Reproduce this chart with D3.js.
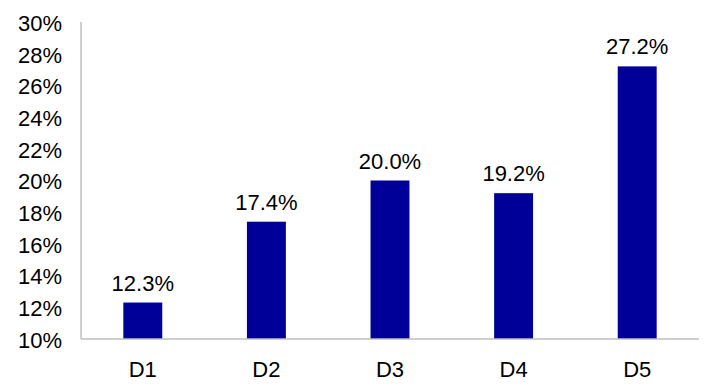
<!DOCTYPE html>
<html>
<head>
<meta charset="utf-8">
<script src="https://cdn.jsdelivr.net/npm/d3@7"></script>
<style>
  body { margin: 0; background: #fff; }
  text { font-family: "Liberation Sans", Arial, sans-serif; fill: #000; }
</style>
</head>
<body>
<div id="chart"></div>
<script>
// data
const categories = ["D1", "D2", "D3", "D4", "D5"];
const values = [12.3, 17.4, 20.0, 19.2, 27.2];
const yTicks = [10, 12, 14, 16, 18, 20, 22, 24, 26, 28, 30];

const width = 711, height = 390;
let padding = {top: 22, right: 12, bottom: 51, left: 81};

const svg = d3.select("#chart").append("svg")
  .attr("width", width)
  .attr("height", height);

let x = d3.scaleBand()
  .domain(categories)
  .range([padding.left, width - padding.right]);

let y = d3.scaleLinear()
  .domain([10, 30])
  .range([height - padding.bottom, padding.top]);

const barW = x.bandwidth() * 0.315;

// Y axis labels (no ticks)
svg.append("g")
  .attr("class", "axis y")
  .selectAll("text")
  .data(yTicks)
  .join("text")
    .attr("x", padding.left - 19)
    .attr("y", d => y(d))
    .attr("dy", "0.4em")
    .attr("text-anchor", "end")
    .style("font-size", "22px")
    .text(d => d + "%");

// bars
svg.selectAll(".bar")
  .data(values)
  .join("rect")
    .attr("class", "bar")
    .attr("x", (d, i) => x(categories[i]) + x.bandwidth() / 2 - barW / 2)
    .attr("y", d => y(d))
    .attr("width", barW)
    .attr("height", d => y(10) - y(d))
    .attr("fill", "#000099");

// value labels
svg.selectAll(".vlabel")
  .data(values)
  .join("text")
    .attr("class", "vlabel")
    .attr("x", (d, i) => x(categories[i]) + x.bandwidth() / 2)
    .attr("y", d => y(d) - 12)
    .attr("text-anchor", "middle")
    .style("font-size", "22px")
    .text(d => d.toFixed(1) + "%");

// axis lines
svg.append("line")
  .attr("x1", padding.left).attr("x2", padding.left)
  .attr("y1", y(30)).attr("y2", y(10))
  .attr("stroke", "#bfbfbf").attr("stroke-width", 1.5);
svg.append("line")
  .attr("x1", padding.left).attr("x2", width - padding.right)
  .attr("y1", y(10)).attr("y2", y(10))
  .attr("stroke", "#bfbfbf").attr("stroke-width", 1.5);

// X labels
svg.selectAll(".xlabel")
  .data(categories)
  .join("text")
    .attr("class", "xlabel")
    .attr("x", d => x(d) + x.bandwidth() / 2)
    .attr("y", height - padding.bottom + 38)
    .attr("text-anchor", "middle")
    .style("font-size", "22px")
    .text(d => d);
</script>
</body>
</html>
